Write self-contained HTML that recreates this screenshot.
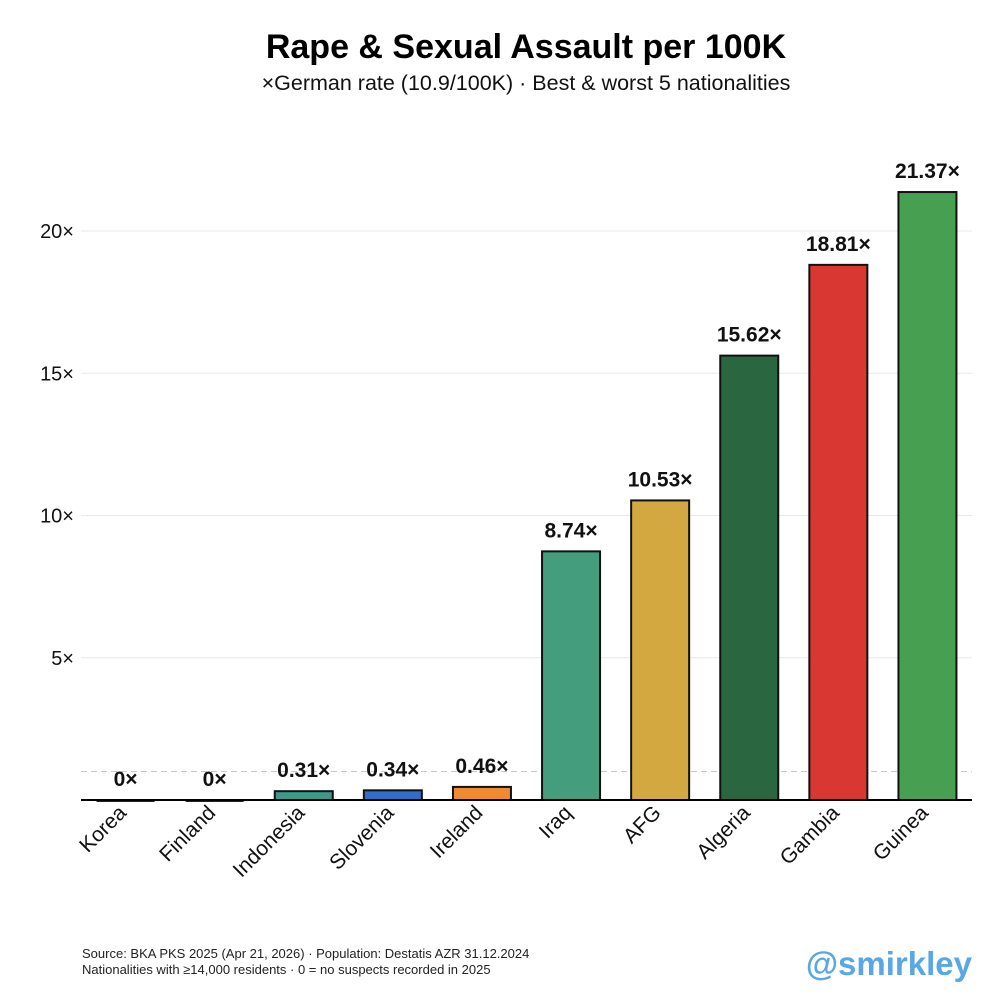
<!DOCTYPE html>
<html><head><meta charset="utf-8"><style>
html,body{margin:0;padding:0;background:#fff;}
svg{display:block;font-family:"Liberation Sans",sans-serif;}
</style></head><body>
<svg id="chart" width="1000" height="1000" viewBox="0 0 1000 1000">
<text x="526" y="58" text-anchor="middle" font-size="34" font-weight="bold" fill="#000">Rape &amp; Sexual Assault per 100K</text>
<text x="526" y="90" text-anchor="middle" font-size="21.5" fill="#111">×German rate (10.9/100K) · Best &amp; worst 5 nationalities</text>
<g id="grid"></g><g id="bars"></g>
<text x="82" y="958" font-size="13" fill="#222">Source: BKA PKS 2025 (Apr 21, 2026) · Population: Destatis AZR 31.12.2024</text>
<text x="82" y="974" font-size="13" fill="#222">Nationalities with ≥14,000 residents · 0 = no suspects recorded in 2025</text>
<text x="972" y="975" text-anchor="end" font-size="33" font-weight="bold" fill="#5aa7e6">@smirkley</text>
</svg>
<script>
const categories=["Korea","Finland","Indonesia","Slovenia","Ireland","Iraq","AFG","Algeria","Gambia","Guinea"];
const values=[0,0,0.31,0.34,0.46,8.74,10.53,15.62,18.81,21.37];
const valueLabels=["0×","0×","0.31×","0.34×","0.46×","8.74×","10.53×","15.62×","18.81×","21.37×"];
const colors=["#222","#222","#3a9a8a","#2e6fcc","#f08a30","#449e7e","#d4a840","#2a6640","#d93832","#47a052"];
const yTicks=[5,10,15,20];
const NS="http://www.w3.org/2000/svg";
const x0=81,x1=972,yBase=800,unit=28.45;
const y=v=>yBase-v*unit;
const step=(x1-x0)/categories.length;
const xc=i=>x0+step*(i+0.5);
const bw=58;
function mk(t,a,p){const e=document.createElementNS(NS,t);for(const k in a)e.setAttribute(k,a[k]);p.appendChild(e);return e;}
const grid=document.getElementById('grid'),bars=document.getElementById('bars');
yTicks.forEach(t=>{
 const l=mk('line',{x1:x0,x2:x1,y1:y(t),y2:y(t),stroke:'#e8e8e8','stroke-width':1},grid);
 
 
 const tx=mk('text',{x:74,y:y(t)+7,'text-anchor':'end','font-size':20,fill:'#111'},grid);
 tx.textContent=t+'×';
 
 
});
const ref=mk('line',{x1:x0,x2:x1,y1:y(1),y2:y(1),stroke:'#c8c8c8','stroke-dasharray':'6,4','stroke-width':1},grid);


categories.forEach((c,i)=>{
 const v=values[i];const cx=xc(i);
 let r;
 if(v===0){r=mk('rect',{x:cx-29,y:yBase,width:bw,height:2,fill:'#222'},bars);}
 else r=mk('rect',{x:cx-bw/2,y:y(v),width:bw,height:v*unit,fill:colors[i],stroke:'#111','stroke-width':2},bars);
 
 
 const ly=v===0?y(v)-14:y(v)-14;
 const t=mk('text',{x:cx,y:ly,'text-anchor':'middle','font-size':21,'font-weight':'bold',fill:'#111'},bars);
 t.textContent=valueLabels[i];
 
 
 const lb=mk('text',{x:cx+2,y:yBase+14,'text-anchor':'end','font-size':21,fill:'#111',transform:`rotate(-45 ${cx+2} ${yBase+14})`},bars);
 lb.textContent=c;
 
 
});
const ax=mk('line',{x1:x0,x2:x1,y1:yBase,y2:yBase,stroke:'#000','stroke-width':2},bars);


</script>
</body></html>
